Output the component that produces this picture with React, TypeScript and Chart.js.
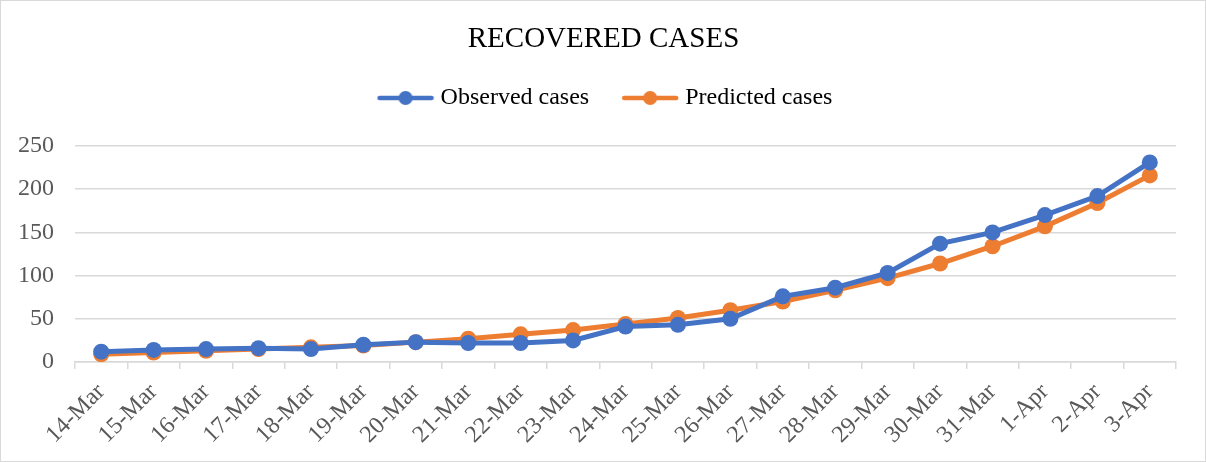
import React, { useEffect, useRef } from "react";
import { Chart, registerables } from "chart.js";

Chart.register(...registerables);

const categories = [
  "14-Mar", "15-Mar", "16-Mar", "17-Mar", "18-Mar", "19-Mar", "20-Mar",
  "21-Mar", "22-Mar", "23-Mar", "24-Mar", "25-Mar", "26-Mar", "27-Mar",
  "28-Mar", "29-Mar", "30-Mar", "31-Mar", "1-Apr", "2-Apr", "3-Apr",
];
const observedCases = [12, 14, 15, 16, 15, 20, 23, 22, 22, 25, 41, 43, 50, 76, 86, 103, 137, 150, 170, 192, 231];
const predictedCases = [9, 11, 13, 15, 17, 19, 23, 27, 32, 37, 44, 51, 60, 70, 83, 97, 114, 134, 157, 184, 216];
const yTicks = [0, 50, 100, 150, 200, 250];

const BLUE = "#4472C4";
const ORANGE = "#ED7D31";
const FONT = "'Liberation Serif', 'Times New Roman', serif";

function legendIcon(color: string): HTMLCanvasElement {
  const c = document.createElement("canvas");
  c.width = 58;
  c.height = 16;
  const ctx = c.getContext("2d")!;
  ctx.strokeStyle = color;
  ctx.lineWidth = 4.5;
  ctx.lineCap = "round";
  ctx.beginPath();
  ctx.moveTo(3, 8);
  ctx.lineTo(55, 8);
  ctx.stroke();
  ctx.fillStyle = color;
  ctx.beginPath();
  ctx.arc(29, 8, 7, 0, Math.PI * 2);
  ctx.fill();
  return c;
}

// Shift title and legend horizontally to match the reference centring.
const headerShift = {
  id: "headerShift",
  afterLayout(chart: any) {
    const t = chart.titleBlock;
    if (t) {
      t.left += 15;
      t.right += 15;
    }
    const l = chart.legend;
    if (l) {
      l.left += 19;
      l.right += 19;
    }
  },
};

export default function App() {
  const ref = useRef<HTMLCanvasElement | null>(null);

  useEffect(() => {
    document.body.style.margin = "0";
    const icons = [legendIcon(BLUE), legendIcon(ORANGE)];
    const chart = new Chart(ref.current!, {
      type: "line",
      data: {
        labels: categories,
        datasets: [
          {
            label: "Observed cases",
            data: observedCases,
            borderColor: BLUE,
            backgroundColor: BLUE,
            borderWidth: 5,
            pointRadius: 8,
            pointHoverRadius: 8,
            pointBorderWidth: 0,
            tension: 0,
          },
          {
            label: "Predicted cases",
            data: predictedCases,
            borderColor: ORANGE,
            backgroundColor: ORANGE,
            borderWidth: 5,
            pointRadius: 8,
            pointHoverRadius: 8,
            pointBorderWidth: 0,
            tension: 0,
          },
        ],
      },
      plugins: [headerShift],
      options: {
        responsive: false,
        animation: false,
        layout: { padding: { left: 0, right: 29, top: 0, bottom: 0 } },
        plugins: {
          tooltip: { enabled: false },
          title: {
            display: true,
            text: "RECOVERED CASES",
            color: "#000000",
            font: { family: FONT, size: 29, weight: "normal" },
            padding: { top: 21, bottom: -8.8 },
          },
          subtitle: {
            display: true,
            text: "",
            weight: 500,
            font: { size: 1 },
            padding: { top: 24.8, bottom: 0 },
          },
          legend: {
            display: true,
            position: "top",
            labels: {
              color: "#000000",
              font: { family: FONT, size: 24 },
              usePointStyle: true,
              pointStyleWidth: 46,
              padding: 38,
              generateLabels: (ch: any) =>
                ch.data.datasets.map((ds: any, i: number) => ({
                  text: ds.label,
                  fillStyle: ds.borderColor,
                  strokeStyle: ds.borderColor,
                  lineWidth: 0,
                  pointStyle: icons[i],
                  hidden: false,
                  datasetIndex: i,
                  fontColor: "#000000",
                })),
            },
          },
        },
        scales: {
          x: {
            type: "category",
            offset: true,
            afterFit: (axis: any) => {
              axis.height = 99;
            },
            grid: {
              offset: true,
              drawOnChartArea: false,
              drawTicks: true,
              tickLength: 7,
              color: "#d9d9d9",
              lineWidth: 1.5,
            },
            border: { display: true, color: "#d9d9d9", width: 1.5 },
            ticks: {
              color: "#595959",
              font: { family: FONT, size: 24 },
              maxRotation: 45,
              minRotation: 45,
              autoSkip: false,
              padding: 9,
            },
          },
          y: {
            min: 0,
            max: 250,
            afterFit: (axis: any) => {
              axis.width = 74;
            },
            afterBuildTicks: (axis: any) => {
              axis.ticks = yTicks.map((v) => ({ value: v }));
            },
            grid: {
              color: "#d9d9d9",
              lineWidth: 1.5,
              drawTicks: false,
            },
            border: { display: false },
            ticks: {
              color: "#595959",
              font: { family: FONT, size: 24 },
              padding: 21,
            },
          },
        },
      },
    });
    return () => chart.destroy();
  }, []);

  return (
    <div
      style={{
        width: 1206,
        height: 462,
        boxSizing: "border-box",
        border: "1px solid #d9d9d9",
        background: "#ffffff",
      }}
    >
      <canvas ref={ref} width={1204} height={460} style={{ display: "block" }} />
    </div>
  );
}
